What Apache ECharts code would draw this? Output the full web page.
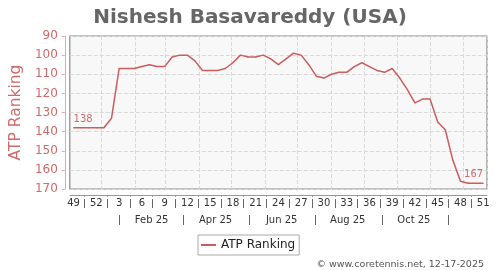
<!DOCTYPE html>
<html><head><meta charset="utf-8">
<script src="https://cdn.jsdelivr.net/npm/echarts@6/dist/echarts.min.js"></script>
<style>html,body{margin:0;padding:0;background:#fff}#c{width:500px;height:270px}</style>
</head><body><div id="c"></div>
<script>
// ---- data ----
const weekLabels = ['49','50','51','52',
  '1','2','3','4','5','6','7','8','9','10','11','12','13','14','15','16','17','18','19','20',
  '21','22','23','24','25','26','27','28','29','30','31','32','33','34','35','36','37','38',
  '39','40','41','42','43','44','45','46','47','48','49','50','51'];
const rankings = [138,138,138,138,138,133,107,107,107,106,
  105,106,106,101,100,100,103,108,108,108,
  107,104,100,101,101,100,102,105,102,99,
  100,105,111,112,110,109,109,106,104,106,
  108,109,107,112,118,125,123,123,135,139,
  155,166,167,167,167];
const yTicks = [90,100,110,120,130,140,150,160,170];
const monthNames = ['Feb 25','Apr 25','Jun 25','Aug 25','Oct 25'];
const monthKeys = ['2025-02','2025-04','2025-06','2025-08','2025-10'];
const sepMonthKeys = ['2025-01','2025-03','2025-05','2025-07','2025-09','2025-11'];
const seriesName = 'ATP Ranking';

// daily helper axis categories (for month labels, separators, grid lines)
const days = [];
const start = Date.UTC(2024, 11, 3);
for (let k = 0; k < weekLabels.length * 7; k++) {
  days.push(new Date(start + k * 86400000).toISOString().slice(0, 10));
}

const RED = '#cd5c5c';
const RED_TXT = '#d06a6a';
const FONT = 'DejaVu Sans';
const last = rankings.length - 1;

const chart = echarts.init(document.getElementById('c'), null, {renderer: 'canvas'});
chart.setOption({
  animation: false,
  textStyle: {fontFamily: FONT},
  title: [
    {text: 'Nishesh Basavareddy (USA)', left: 'center', top: 3,
     textStyle: {fontSize: 20, fontWeight: 'bold', color: '#666', fontFamily: FONT}},
    {text: '© www.coretennis.net, 12-17-2025', right: 11, top: 255,
     textStyle: {fontSize: 9.5, fontWeight: 'normal', color: '#555', fontFamily: FONT}}
  ],
  legend: {
    left: 198, top: 235, data: [{name: seriesName, icon: 'rect'}],
    itemWidth: 15, itemHeight: 2, borderColor: '#aaa', borderWidth: 1,
    padding: [4, 4, 4, 3], textStyle: {fontSize: 12, color: '#222', fontFamily: FONT}
  },
  grid: {left: 68, right: 13, top: 36, bottom: 81, show: true,
         backgroundColor: '#f8f8f8', borderColor: '#888', borderWidth: 1.2},
  xAxis: [
    { type: 'category', data: weekLabels, boundaryGap: true, position: 'bottom', offset: 6,
      axisLine: {show: true, lineStyle: {color: '#999', width: 1}},
      axisTick: {show: false},
      axisLabel: {interval: (i) => i % 3 === 0, color: '#333', fontSize: 10, margin: 3, fontFamily: FONT},
      splitLine: {show: false}
    },
    { type: 'category', data: days, boundaryGap: true, position: 'bottom', offset: 6,
      axisLine: {show: false},
      axisTick: {show: true, alignWithLabel: true, length: 2, interval: (i) => i % 21 === 13, lineStyle: {color: '#999'}},
      axisLabel: {show: false},
      splitLine: {show: true, interval: (i) => days[i].endsWith('-01'), lineStyle: {type: 'dashed', color: '#d8d8d8'}}
    },
    { type: 'category', data: days, boundaryGap: true, position: 'bottom', offset: 10,
      axisLine: {show: false},
      axisTick: {show: true, alignWithLabel: true, length: 9, interval: (i) => i % 21 === 13, lineStyle: {color: '#666'}},
      axisLabel: {show: false}, splitLine: {show: false}
    },
    { type: 'category', data: days, boundaryGap: true, position: 'bottom', offset: 26,
      axisLine: {show: false},
      axisTick: {show: true, alignWithLabel: true, length: 10,
        interval: (i) => days[i].endsWith('-17') && sepMonthKeys.indexOf(days[i].slice(0, 7)) >= 0,
        lineStyle: {color: '#666'}},
      axisLabel: {show: true, margin: 0, color: '#333', fontSize: 10, fontFamily: FONT,
        interval: (i) => days[i].endsWith('-16') && monthKeys.indexOf(days[i].slice(0, 7)) >= 0,
        formatter: (v) => monthNames[monthKeys.indexOf(v.slice(0, 7))] || ''},
      splitLine: {show: false}
    }
  ],
  yAxis: {
    type: 'value', inverse: true, min: yTicks[0], max: yTicks[yTicks.length - 1], interval: 10,
    position: 'left', offset: 5,
    axisLine: {show: true, lineStyle: {color: '#e2a9a9'}},
    axisTick: {show: true, length: 3, lineStyle: {color: '#e2a9a9'}},
    axisLabel: {color: RED_TXT, fontSize: 12, margin: 7, fontFamily: FONT},
    splitLine: {show: true, lineStyle: {type: 'dashed', color: '#d8d8d8'}},
    name: seriesName, nameLocation: 'middle', nameGap: 35,
    nameTextStyle: {color: RED_TXT, fontSize: 15.5, fontFamily: FONT}
  },
  series: [{
    type: 'line', name: seriesName, xAxisIndex: 0, yAxisIndex: 0,
    data: rankings.map((v, i) => ({
      value: v,
      label: (i === 0 || i === last) ? {show: true, align: i === 0 ? 'left' : 'right'} : {show: false}
    })),
    symbol: 'circle', symbolSize: 1, showSymbol: true, showAllSymbol: true,
    lineStyle: {color: RED, width: 1.5}, itemStyle: {color: RED},
    label: {position: 'top', distance: 3, fontSize: 10, color: RED_TXT, fontFamily: FONT},
    emphasis: {disabled: true}
  }]
});
</script></body></html>
